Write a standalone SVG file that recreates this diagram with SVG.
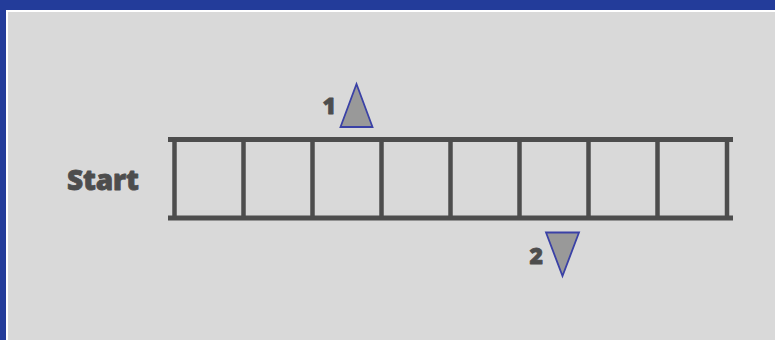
<svg xmlns="http://www.w3.org/2000/svg" width="775" height="340" viewBox="0 0 775 340">
<style>
.rail{stroke:#4d4d4d;stroke-width:5;fill:none}
.rung{stroke:#4d4d4d;stroke-width:4.5;fill:none}
.tri{fill:#999999;stroke:#3a41a6;stroke-width:1.8;stroke-linejoin:miter}
.lbl{font-family:"Open Sans","DejaVu Sans",sans-serif;font-weight:800;fill:#4d4d4d;stroke:#4d4d4d;stroke-width:0.8;stroke-linejoin:round}
</style>
<rect x="0" y="0" width="775" height="340" fill="#233c9a"/>
<rect x="7" y="11" width="780" height="340" fill="#d9d9d9" stroke="#ffffff" stroke-width="2"/>
<g id="start">
<text class="lbl" x="67" y="189.5" font-size="28" textLength="72">Start</text>
</g>
<g id="ladder">
<line class="rail" x1="168" y1="139.5" x2="733" y2="139.5"/>
<line class="rail" x1="168" y1="218" x2="733" y2="218"/>
<line class="rung" x1="174.5" y1="139.5" x2="174.5" y2="218"/>
<line class="rung" x1="243.5" y1="139.5" x2="243.5" y2="218"/>
<line class="rung" x1="312.5" y1="139.5" x2="312.5" y2="218"/>
<line class="rung" x1="381.5" y1="139.5" x2="381.5" y2="218"/>
<line class="rung" x1="450.5" y1="139.5" x2="450.5" y2="218"/>
<line class="rung" x1="519.5" y1="139.5" x2="519.5" y2="218"/>
<line class="rung" x1="588.5" y1="139.5" x2="588.5" y2="218"/>
<line class="rung" x1="657.5" y1="139.5" x2="657.5" y2="218"/>
<line class="rung" x1="727" y1="139.5" x2="727" y2="218"/>
</g>
<g id="marker1">
<polygon class="tri" points="356.5,84 340.5,127 372.5,127"/>
<text class="lbl" x="336" y="114" font-size="23" text-anchor="end">1</text>
</g>
<g id="marker2">
<polygon class="tri" points="546,232.5 579,232.5 562.5,276"/>
<text class="lbl" x="543" y="263.5" font-size="23" text-anchor="end">2</text>
</g>
</svg>
